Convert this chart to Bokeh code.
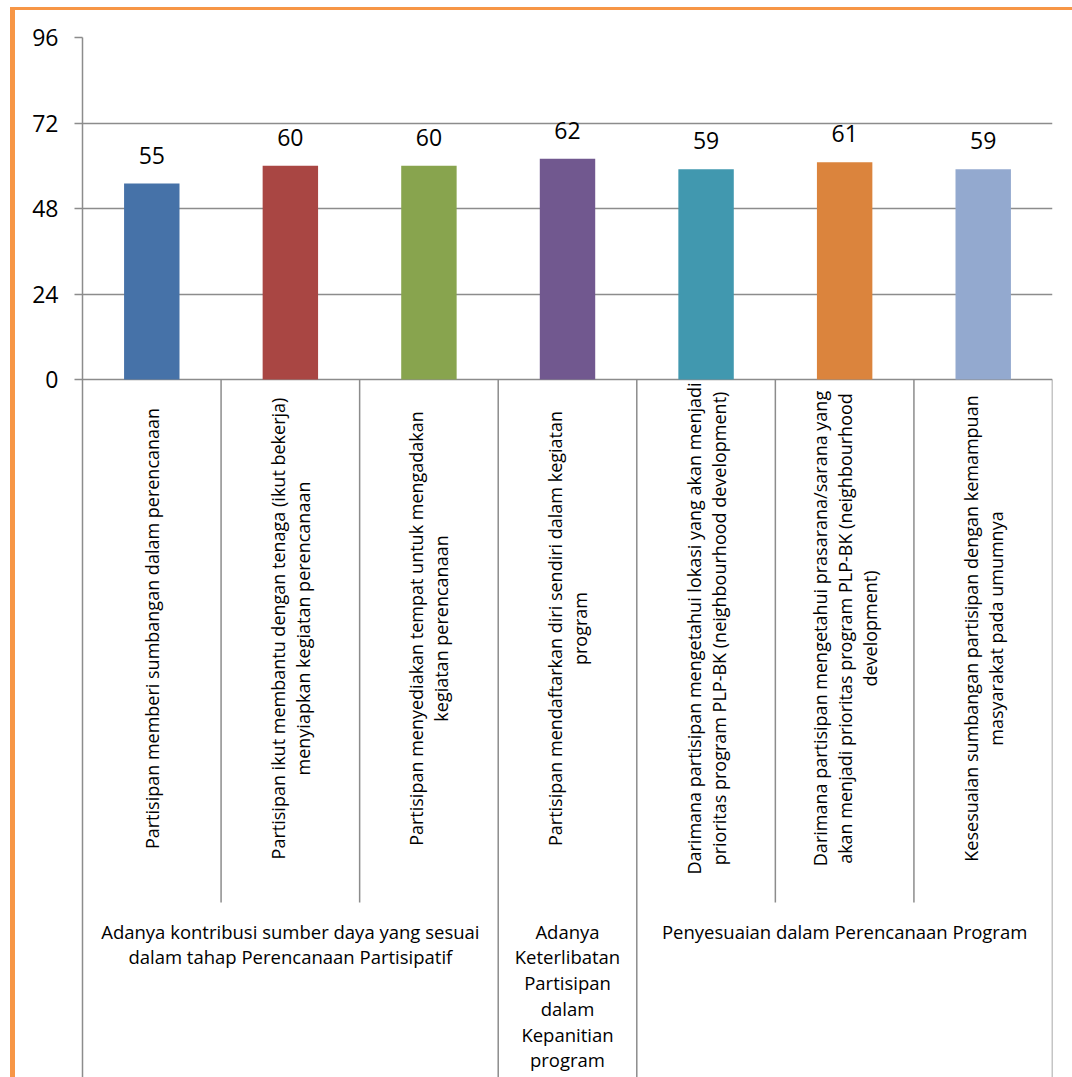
from math import pi

from bokeh.core.properties import value
from bokeh.embed import file_html
from bokeh.models import Range1d
from bokeh.plotting import figure
from bokeh.resources import INLINE

# --- data -------------------------------------------------------------
items = [
    "Partisipan memberi sumbangan dalam perencanaan",
    "Partisipan ikut membantu dengan tenaga (ikut bekerja)\nmenyiapkan kegiatan perencanaan",
    "Partisipan menyediakan tempat untuk mengadakan\nkegiatan perencanaan",
    "Partisipan mendaftarkan diri sendiri dalam kegiatan\nprogram",
    "Darimana partisipan mengetahui lokasi yang akan menjadi\nprioritas program PLP-BK (neighbourhood development)",
    "Darimana partisipan mengetahui prasarana/sarana yang\nakan menjadi prioritas program PLP-BK (neighbourhood\ndevelopment)",
    "Kesesuaian sumbangan partisipan dengan kemampuan\nmasyarakat pada umumnya",
]
scores = [55, 60, 60, 62, 59, 61, 59]

groups = [
    "Adanya kontribusi sumber daya yang sesuai\ndalam tahap Perencanaan Partisipatif",
    "Adanya\nKeterlibatan\nPartisipan\ndalam\nKepanitian\nprogram",
    "Penyesuaian dalam Perencanaan Program",
]
group_sizes = [3, 1, 3]

y_ticks = [0, 24, 48, 72, 96]

# --- styling ----------------------------------------------------------
bar_colors = ["#4672A8", "#A94643", "#88A44E", "#71588F", "#4198AF", "#DB843D", "#93A9CF"]
grid_color = "#8C8C8C"
frame_orange = "#F79646"
FONT = "Open Sans"
LINE_BOX = 1.362               # Open Sans ascent + descent, in em

# --- layout (pixels) --------------------------------------------------
W, H = 1072, 1077
LEFT, RIGHT = 82, 20
TOP, ZERO = 37, 379            # canvas rows of the 96 line and the 0 line
y_max = y_ticks[-1]
unit_px = (ZERO - TOP) / y_max
y_start = -(H - ZERO) / unit_px


def below(px):
    """Data y for a point `px` pixels under the zero line."""
    return -px / unit_px


def line_height(spacing_px, font_px):
    return spacing_px / (font_px * LINE_BOX)


n = len(scores)
centers = [i + 0.5 for i in range(n)]

p = figure(
    width=W, height=H,
    x_range=Range1d(0, n), y_range=Range1d(y_start, y_max),
    output_backend="svg", toolbar_location=None, x_axis_type=None,
    min_border_left=LEFT, min_border_right=RIGHT,
    min_border_top=TOP, min_border_bottom=0,
)
p.outline_line_color = None
p.background_fill_color = "white"
# transparent margins so the page frame painted behind the canvas shows
p.border_fill_color = None
p.styles = {
    "background-color": "white",
    "background-image": (f"linear-gradient({frame_orange}, {frame_orange}), "
                         f"linear-gradient({frame_orange}, {frame_orange})"),
    "background-size": f"{W - 10}px 3px, 5px {H - 7}px",
    "background-position": "10px 7px, 10px 7px",
    "background-repeat": "no-repeat",
}

# y axis and horizontal grid
ax = p.yaxis[0]
ax.ticker = y_ticks
ax.axis_line_color = grid_color
ax.axis_line_width = 1.5
ax.major_tick_line_color = grid_color
ax.major_tick_line_width = 1.5
ax.major_tick_out = 8
ax.major_tick_in = 0
ax.minor_tick_line_color = None
ax.major_label_text_font = FONT
ax.major_label_text_font_size = "23px"
ax.major_label_text_color = "black"
ax.major_label_standoff = 16

p.xgrid.visible = False
p.ygrid.grid_line_color = grid_color
p.ygrid.grid_line_width = 1.5

# bars
p.vbar(x=centers, top=scores, width=0.4, fill_color=bar_colors, line_color=None)

# value labels above the bars
p.text(x=centers, y=scores, text=[str(s) for s in scores],
       text_align="center", text_baseline="bottom", y_offset=-20,
       text_font=value(FONT), text_font_size="23px", text_color="black")

# category separators: inner ones stop under the item labels, group ones run on
bounds = []
acc = 0
for g in group_sizes:
    acc += g
    bounds.append(acc)
inner = [b for b in range(1, n) if b not in bounds]
p.segment(x0=inner, y0=[0] * len(inner), x1=inner, y1=[below(523)] * len(inner),
          line_color=grid_color, line_width=1.5)
p.segment(x0=bounds, y0=[0] * len(bounds), x1=bounds, y1=[y_start] * len(bounds),
          line_color=grid_color, line_width=1.5)

# rotated item labels
p.text(x=centers, y=[below(249)] * n, text=items, angle=pi / 2,
       text_align="center", text_baseline="middle",
       text_line_height=line_height(25.5, 18),
       text_font=value(FONT), text_font_size="18px", text_color="black")

# group labels
starts = [b - g for b, g in zip(bounds, group_sizes)]
g_centers = [(s + b) / 2 for s, b in zip(starts, bounds)]
p.text(x=g_centers, y=[below(539)] * len(groups), text=groups,
       text_align="center", text_baseline="top",
       text_line_height=line_height(26, 18.5),
       text_font=value(FONT), text_font_size="18.5px", text_color="black")

open("out.html", "w").write(file_html(p, INLINE))
